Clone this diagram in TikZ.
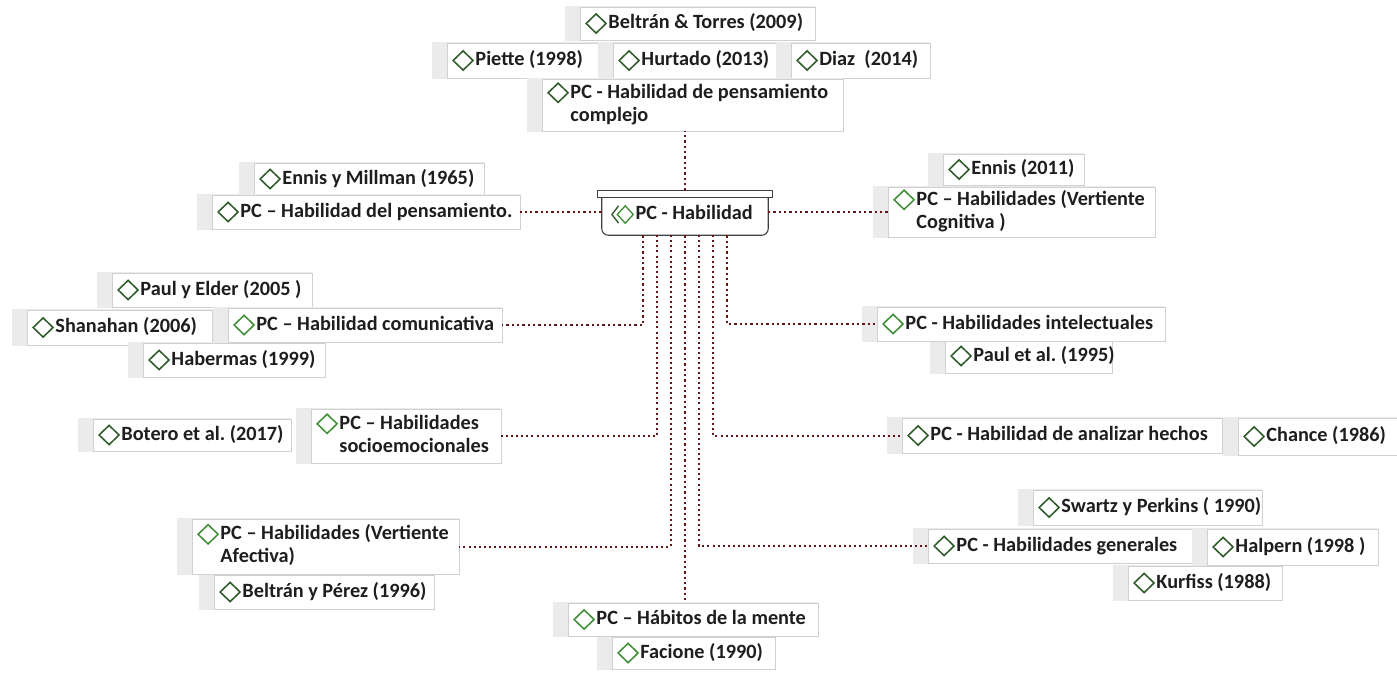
\documentclass[tikz,border=0pt]{standalone}
\usepackage{fontspec}
\setmainfont{Carlito}
\usetikzlibrary{calc}
\frenchspacing

\definecolor{dg}{HTML}{2E5B29}
\definecolor{bg}{HTML}{3F8F36}
\definecolor{ink}{HTML}{1E1E1E}
\definecolor{linkred}{RGB}{100,22,22}
\definecolor{shadefill}{HTML}{EBEBEB}
\definecolor{cardline}{HTML}{D0D0D0}

% diamond bullet in front of every label
\newcommand\dmd[1]{\tikz[x=1pt,y=1pt,baseline=-4pt]\draw[#1,line width=1.15pt,line join=miter] (0,0)--(7.5,7.2)--(15,0)--(7.5,-7.2)--cycle;\hspace{1.2pt}}
% double chevron bullet of the central node
\newcommand\hubicon{\tikz[x=1pt,y=1pt,baseline=-4pt]{\draw[dg,line width=1pt] (5,6.5)--(0,0)--(5,-6.5);\draw[bg,line width=1pt] (4,0)--(10,6.5)--(16,0)--(10,-6.5)--cycle;}\hspace{1.2pt}}
\newcommand\twolines[2]{\begin{tabular}[t]{@{}l@{}}#1\\#2\end{tabular}}

% card: name, x1, y1, x2, y2 (pixels), bullet colour, label
\newcommand\card[7]{%
  \pgfmathsetmacro\cardw{(#4-#2)*0.75}%
  \pgfmathsetmacro\cardh{(#5-#3)*0.75}%
  \pgfmathsetmacro\cardt{(#4-#2)*0.75-8}%
  \fill[shadefill] (#2-15,#3-1) rectangle (#4,#5+1);
  \node[cardbox, minimum width=\cardw pt, minimum height=\cardh pt]
    (#1) at ({(#2+#4)/2},{(#3+#5)/2}) {\makebox[\cardt pt][l]{\dmd{#6}#7}};
}

\tikzset{
  cardbox/.style={draw=cardline, line width=0.6pt, fill=white, rectangle,
    inner xsep=4pt, inner ysep=0pt, text=ink, align=left,
    font=\fontsize{15.2}{17.2}\selectfont\bfseries},
  hubbox/.style={rectangle, inner sep=0pt, text=ink,
    font=\fontsize{15.2}{17.2}\selectfont\bfseries},
  link/.style={draw=linkred, line width=1.8pt, dash pattern=on 1.8pt off 2.2pt},
  linkthin/.style={link, line width=1.5pt, dash pattern=on 1.5pt off 2.3pt}
}
\renewcommand\arraystretch{1.0}

\begin{document}
\begin{tikzpicture}[x=0.75pt,y=-0.75pt]
\useasboundingbox[fill=white] (0,0) rectangle (1397,672);

% top cluster
\card{beltor}{580}{7}{815}{40}{dg}{Beltrán \& Torres (2009)}
\card{piette}{447}{43}{603}{78}{dg}{Piette (1998)}
\card{hurtado}{613}{43}{778}{78}{dg}{Hurtado (2013)}
\card{diaz}{791}{43}{930}{78}{dg}{Diaz\ \ (2014)}
\card{complejo}{542}{79}{843}{131}{dg}{\twolines{PC - Habilidad de pensamiento}{complejo}}

% upper left / right
\card{ennismill}{254}{163}{484}{195}{dg}{Ennis y Millman (1965)}
\card{pensam}{212}{195}{520}{229}{dg}{PC – Habilidad del pensamiento.}
\card{ennis}{943}{154}{1084}{185}{dg}{Ennis (2011)}
\card{cognitiva}{888}{187}{1155}{237}{bg}{\twolines{PC – Habilidades (Vertiente}{Cognitiva )}}

% communication branch
\card{paulelder}{112}{273}{312}{307}{dg}{Paul y Elder (2005 )}
\card{shanahan}{27}{310}{212}{345}{dg}{Shanahan (2006)}
\card{habermas}{143}{343}{325}{377}{dg}{Habermas (1999)}
\card{comm}{228}{308}{502}{342}{bg}{PC – Habilidad comunicativa}

% intellectual branch
\card{paulal}{945}{339}{1112}{373}{dg}{Paul et al. (1995)}
\card{intel}{877}{307}{1165}{341}{bg}{PC - Habilidades intelectuales}

% socio-emotional branch
\card{botero}{93}{419}{291}{451}{dg}{Botero et al. (2017)}
\card{socio}{311}{409}{501}{463}{bg}{\twolines{PC – Habilidades}{socioemocionales}}

% analysis branch
\card{analizar}{902}{418}{1222}{453}{dg}{PC - Habilidad de analizar hechos}
\card{chance}{1238}{418}{1397}{455}{dg}{Chance (1986)}

% general branch
\card{swartz}{1033}{490}{1262}{525}{dg}{Swartz y Perkins ( 1990)}
\card{kurfiss}{1128}{566}{1282}{600}{dg}{Kurfiss (1988)}
\card{generales}{928}{529}{1195}{563}{dg}{PC - Habilidades generales}
\card{halpern}{1207}{529}{1378}{565}{dg}{Halpern (1998 )}

% affective branch
\card{beltper}{214}{575}{434}{609}{dg}{Beltrán y Pérez (1996)}
\card{afectiva}{192}{519}{459}{574}{bg}{\twolines{PC – Habilidades (Vertiente}{Afectiva)}}

% habits branch
\card{facione}{612}{637}{775}{669}{bg}{Facione (1990)}
\card{habitos}{568}{603}{818}{636}{bg}{PC – Hábitos de la mente}

% central node: a tray with a lid
\node[hubbox, minimum width=124.5pt, minimum height=27.75pt] (hub) at (685,216.5) {};
\draw[black!75, line width=0.8pt, rounded corners=5pt, fill=white]
  (hub.north west) -- (hub.south west) -- (hub.south east) -- (hub.north east);
\node[hubbox] at ($(hub.center)+(-3,-2)$) {\hubicon PC - Habilidad};
\draw[black!75, line width=0.8pt, fill=white]
  ($(hub.north west)+(-4,0)$) rectangle ($(hub.north east)+(4,-7)$);
\coordinate (hubtop) at ($(hub.north)+(0,-7)$);

% connectors
\draw[link] (hubtop) -- (hubtop |- complejo.south);
\draw[link] (hub.west |- pensam.east) -- (pensam.east);
\draw[link] (cognitiva.west) -- (cognitiva.west -| hub.east);
\draw[link] ($(hub.south)+(-42,0)$) |- (comm.east);
\draw[link] ($(hub.south)+(42,0)$) |- (intel.west);
\draw[linkthin] ($(hub.south)+(-28,0)$) |- (socio.east);
\draw[linkthin] ($(hub.south)+(28,0)$) |- (analizar.west);
\draw[linkthin] ($(hub.south)+(-14,0)$) |- (afectiva.east);
\draw[linkthin] ($(hub.south)+(14,0)$) |- (generales.west);
\draw[link] (hub.south) -- (hub.south |- habitos.north);
\end{tikzpicture}
\end{document}
